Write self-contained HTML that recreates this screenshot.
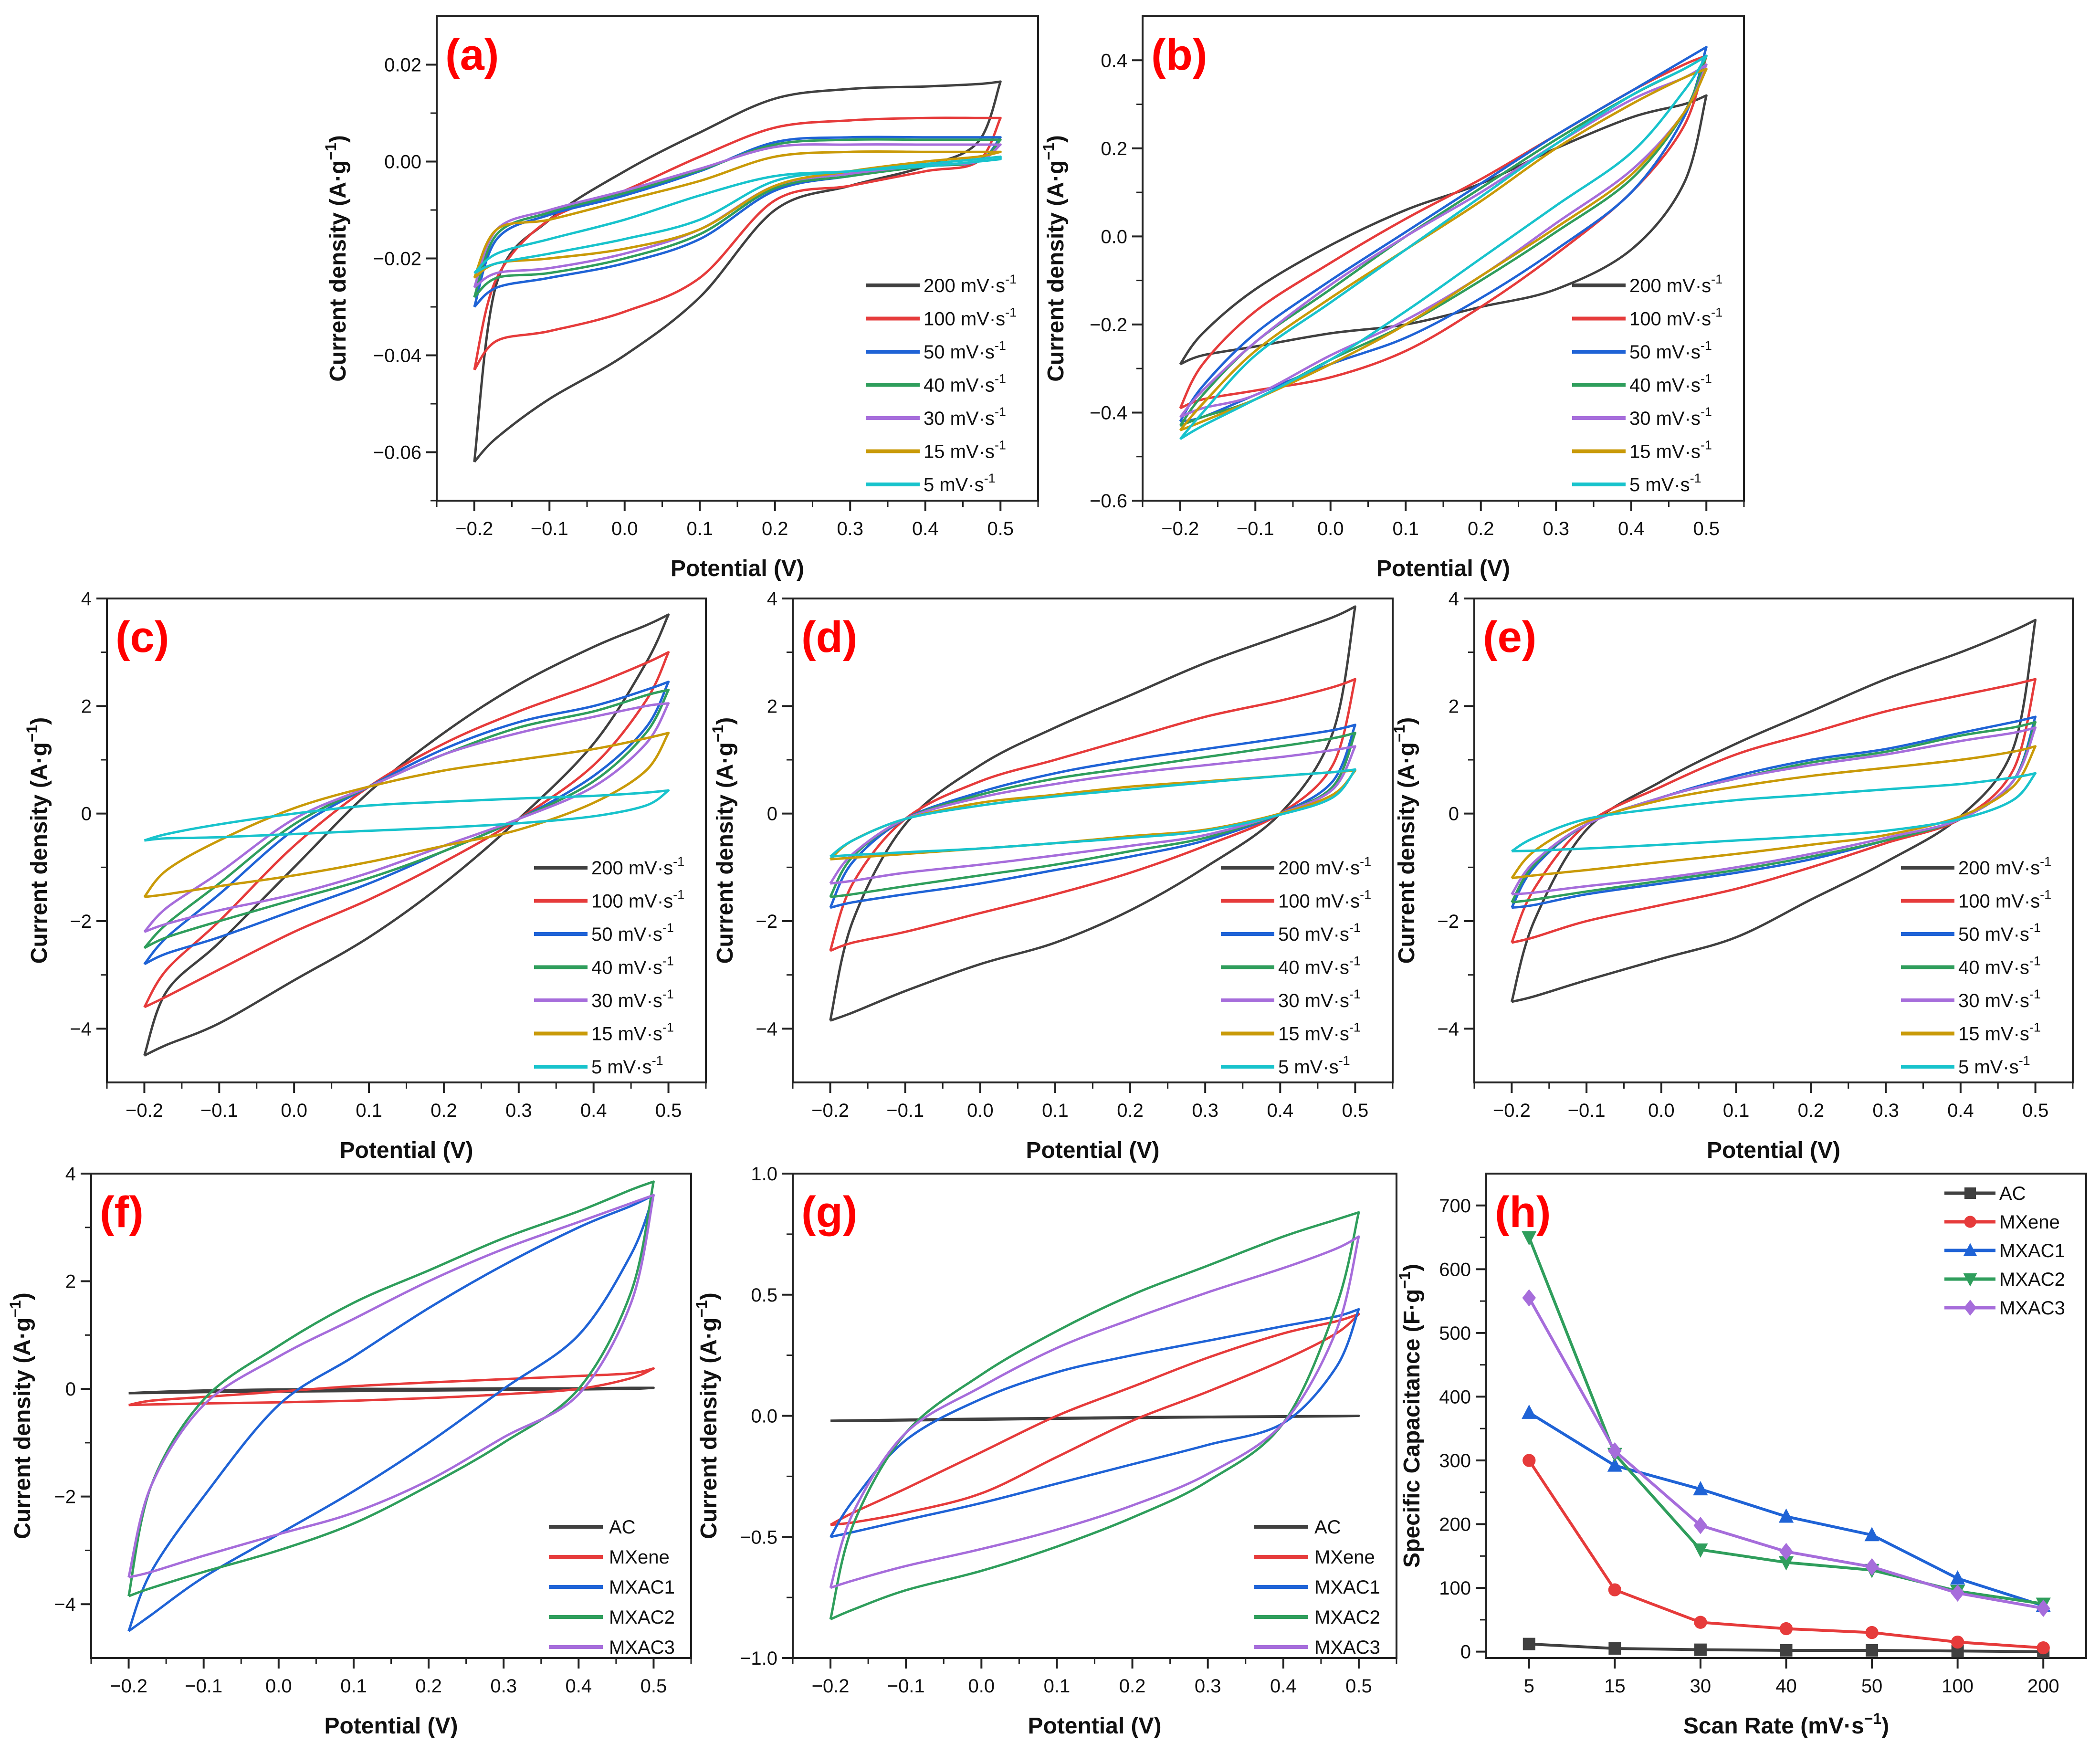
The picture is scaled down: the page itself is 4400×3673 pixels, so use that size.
<!DOCTYPE html>
<html><head><meta charset="utf-8">
<style>
html,body{margin:0;padding:0;background:#fff;}
svg{display:block;font-family:"Liberation Sans",Arial,sans-serif;}
</style></head>
<body>
<svg id="fig" xmlns="http://www.w3.org/2000/svg" width="4400" height="3673" viewBox="0 0 4400 3673">
<rect x="0" y="0" width="4400" height="3673" fill="#fff"/>
</svg>
<script>
// ---------- DATA ----------
const potentials = [-0.2,-0.17,-0.1,0,0.1,0.2,0.3,0.4,0.47,0.5];
const rateLabels = ['200','100','50','40','30','15','5'];
const sampleLabels = ['AC','MXene','MXAC1','MXAC2','MXAC3'];
const xTickValues = [-0.2,-0.1,0,0.1,0.2,0.3,0.4,0.5];

// panel (a)
const aUpper = [
 [-0.062,-0.025,-0.012,-0.002,0.006,0.013,0.015,0.0155,0.016,0.0165],
 [-0.043,-0.024,-0.012,-0.006,0.001,0.007,0.0085,0.009,0.009,0.009],
 [-0.030,-0.016,-0.011,-0.007,-0.002,0.004,0.005,0.005,0.005,0.005],
 [-0.028,-0.015,-0.0105,-0.0065,-0.0018,0.0035,0.0045,0.0045,0.0045,0.0045],
 [-0.026,-0.014,-0.010,-0.006,-0.0015,0.003,0.0035,0.0035,0.0035,0.0035],
 [-0.024,-0.014,-0.012,-0.008,-0.004,0.001,0.002,0.002,0.002,0.002],
 [-0.023,-0.019,-0.016,-0.012,-0.007,-0.003,-0.002,-0.0005,0.0005,0.001]];
const aLower = [
 [-0.062,-0.057,-0.049,-0.040,-0.028,-0.010,-0.005,-0.001,0.004,0.0165],
 [-0.043,-0.037,-0.035,-0.031,-0.024,-0.008,-0.005,-0.002,0.0,0.009],
 [-0.030,-0.026,-0.024,-0.021,-0.016,-0.006,-0.003,-0.001,0.0,0.005],
 [-0.028,-0.024,-0.023,-0.020,-0.015,-0.0055,-0.003,-0.001,0.0,0.0045],
 [-0.026,-0.023,-0.022,-0.019,-0.014,-0.005,-0.0025,-0.0008,0.0,0.0035],
 [-0.024,-0.021,-0.020,-0.018,-0.014,-0.005,-0.002,0.0,0.001,0.002],
 [-0.023,-0.021,-0.019,-0.016,-0.012,-0.004,-0.002,-0.001,0.0,0.0005]];
const aYTicks = [0.02,0,-0.02,-0.04,-0.06];

// panel (b)
const bUpper = [
 [-0.29,-0.22,-0.12,-0.02,0.06,0.12,0.2,0.27,0.3,0.32],
 [-0.39,-0.29,-0.17,-0.06,0.04,0.13,0.23,0.33,0.39,0.41],
 [-0.42,-0.34,-0.22,-0.1,0.01,0.12,0.23,0.33,0.4,0.43],
 [-0.43,-0.36,-0.24,-0.12,0.0,0.11,0.22,0.32,0.38,0.41],
 [-0.41,-0.35,-0.24,-0.11,0.0,0.1,0.21,0.31,0.36,0.39],
 [-0.44,-0.38,-0.26,-0.14,-0.03,0.08,0.2,0.3,0.36,0.38],
 [-0.46,-0.4,-0.27,-0.15,-0.03,0.09,0.21,0.32,0.38,0.41]];
const bLower = [
 [-0.29,-0.27,-0.25,-0.22,-0.2,-0.16,-0.12,-0.03,0.12,0.32],
 [-0.39,-0.37,-0.35,-0.32,-0.26,-0.16,-0.04,0.1,0.25,0.41],
 [-0.42,-0.41,-0.36,-0.29,-0.23,-0.14,-0.03,0.1,0.27,0.43],
 [-0.43,-0.41,-0.37,-0.28,-0.2,-0.1,0.01,0.13,0.28,0.41],
 [-0.41,-0.39,-0.36,-0.27,-0.19,-0.09,0.03,0.15,0.28,0.39],
 [-0.44,-0.42,-0.37,-0.29,-0.2,-0.09,0.02,0.14,0.28,0.38],
 [-0.46,-0.43,-0.37,-0.28,-0.17,-0.05,0.07,0.19,0.33,0.41]];
const bYTicks = [0.4,0.2,0.0,-0.2,-0.4,-0.6];

// panel (c)
const cUpper = [
 [-4.5,-3.3,-2.4,-1.0,0.4,1.5,2.4,3.1,3.5,3.7],
 [-3.6,-2.9,-2.0,-0.6,0.5,1.3,1.9,2.4,2.8,3.0],
 [-2.8,-2.3,-1.5,-0.3,0.5,1.2,1.7,2.0,2.3,2.45],
 [-2.5,-2.05,-1.3,-0.2,0.5,1.1,1.6,1.9,2.2,2.3],
 [-2.2,-1.75,-1.1,-0.1,0.5,1.1,1.5,1.8,2.0,2.05],
 [-1.55,-1.05,-0.5,0.1,0.5,0.8,1.0,1.2,1.4,1.5],
 [-0.5,-0.38,-0.2,0.0,0.15,0.22,0.28,0.33,0.39,0.43]];
const cLower = [
 [-4.5,-4.3,-3.9,-3.1,-2.3,-1.3,-0.1,1.3,2.8,3.7],
 [-3.6,-3.4,-2.9,-2.2,-1.6,-0.9,-0.1,0.9,2.1,3.0],
 [-2.8,-2.6,-2.3,-1.8,-1.3,-0.7,-0.1,0.7,1.6,2.45],
 [-2.5,-2.3,-2.0,-1.6,-1.2,-0.7,-0.1,0.6,1.5,2.3],
 [-2.2,-2.05,-1.8,-1.5,-1.1,-0.6,-0.1,0.5,1.3,2.05],
 [-1.55,-1.5,-1.35,-1.15,-0.9,-0.6,-0.3,0.2,0.8,1.5],
 [-0.5,-0.46,-0.44,-0.38,-0.32,-0.26,-0.18,-0.05,0.15,0.43]];

// panel (d)
const dUpper = [
 [-3.85,-2.0,-0.2,0.9,1.6,2.2,2.8,3.3,3.65,3.85],
 [-2.55,-1.3,-0.1,0.6,1.0,1.4,1.8,2.1,2.35,2.5],
 [-1.75,-0.9,-0.1,0.4,0.75,1.0,1.2,1.4,1.55,1.65],
 [-1.55,-0.8,-0.1,0.35,0.65,0.85,1.05,1.25,1.4,1.5],
 [-1.3,-0.75,-0.1,0.3,0.55,0.75,0.9,1.05,1.18,1.25],
 [-0.85,-0.5,-0.1,0.2,0.35,0.5,0.6,0.7,0.77,0.8],
 [-0.8,-0.5,-0.1,0.15,0.32,0.45,0.58,0.7,0.77,0.82]];
const dLower = [
 [-3.85,-3.7,-3.3,-2.8,-2.4,-1.8,-1.0,0.0,1.5,3.85],
 [-2.55,-2.4,-2.2,-1.85,-1.5,-1.1,-0.6,0.0,0.9,2.5],
 [-1.75,-1.65,-1.5,-1.3,-1.05,-0.8,-0.5,0.0,0.6,1.65],
 [-1.55,-1.5,-1.35,-1.15,-0.95,-0.7,-0.45,0.0,0.5,1.5],
 [-1.3,-1.25,-1.1,-0.95,-0.78,-0.6,-0.4,0.0,0.45,1.25],
 [-0.85,-0.82,-0.75,-0.65,-0.55,-0.42,-0.3,0.0,0.35,0.8],
 [-0.8,-0.77,-0.72,-0.65,-0.55,-0.45,-0.32,-0.02,0.3,0.82]];

// panel (e)
const eUpper = [
 [-3.5,-2.0,-0.3,0.6,1.3,1.9,2.5,3.0,3.4,3.6],
 [-2.4,-1.4,-0.2,0.5,1.1,1.5,1.9,2.2,2.4,2.5],
 [-1.75,-1.0,-0.2,0.3,0.7,1.0,1.2,1.5,1.7,1.8],
 [-1.65,-0.95,-0.2,0.3,0.65,0.95,1.15,1.45,1.6,1.7],
 [-1.5,-0.9,-0.2,0.3,0.65,0.9,1.1,1.35,1.5,1.6],
 [-1.2,-0.7,-0.15,0.25,0.5,0.7,0.85,1.0,1.15,1.25],
 [-0.7,-0.45,-0.1,0.1,0.25,0.35,0.45,0.55,0.67,0.75]];
const eLower = [
 [-3.5,-3.4,-3.1,-2.7,-2.3,-1.6,-0.9,-0.05,1.2,3.6],
 [-2.4,-2.3,-2.0,-1.7,-1.4,-1.0,-0.55,-0.1,0.8,2.5],
 [-1.75,-1.7,-1.5,-1.3,-1.1,-0.85,-0.5,-0.1,0.6,1.8],
 [-1.65,-1.6,-1.45,-1.25,-1.05,-0.8,-0.5,-0.1,0.6,1.7],
 [-1.5,-1.47,-1.35,-1.2,-1.0,-0.75,-0.45,-0.1,0.6,1.6],
 [-1.2,-1.15,-1.05,-0.9,-0.75,-0.58,-0.4,-0.05,0.5,1.25],
 [-0.7,-0.69,-0.65,-0.58,-0.5,-0.42,-0.32,-0.1,0.25,0.75]];
const cdeYTicks = [4,2,0,-2,-4];

// panel (f)
const fUpper = [
 [-0.08,-0.06,-0.03,-0.01,0.0,0.0,0.01,0.01,0.02,0.02],
 [-0.3,-0.22,-0.15,-0.05,0.05,0.12,0.18,0.24,0.29,0.38],
 [-4.5,-3.4,-2.0,-0.3,0.6,1.5,2.3,3.0,3.4,3.6],
 [-3.85,-1.8,-0.2,0.8,1.6,2.2,2.8,3.3,3.7,3.85],
 [-3.5,-1.8,-0.3,0.6,1.3,2.0,2.6,3.1,3.45,3.6]];
const fLower = [
 [-0.08,-0.075,-0.06,-0.05,-0.04,-0.03,-0.02,-0.01,0.0,0.02],
 [-0.3,-0.29,-0.27,-0.25,-0.22,-0.17,-0.1,0.0,0.2,0.38],
 [-4.5,-4.2,-3.5,-2.7,-1.9,-1.0,0.0,1.0,2.5,3.6],
 [-3.85,-3.7,-3.4,-3.0,-2.5,-1.8,-1.0,0.0,1.8,3.85],
 [-3.5,-3.4,-3.1,-2.7,-2.3,-1.7,-0.9,-0.1,1.6,3.6]];

// panel (g)
const gUpper = [
 [-0.02,-0.019,-0.016,-0.012,-0.009,-0.006,-0.004,-0.002,-0.001,0.0],
 [-0.45,-0.4,-0.3,-0.15,0.0,0.12,0.24,0.34,0.39,0.42],
 [-0.5,-0.35,-0.1,0.07,0.18,0.25,0.31,0.37,0.41,0.44],
 [-0.84,-0.45,-0.07,0.17,0.35,0.5,0.62,0.74,0.81,0.84],
 [-0.71,-0.4,-0.07,0.12,0.28,0.4,0.51,0.61,0.69,0.74]];
const gLower = [
 [-0.02,-0.021,-0.019,-0.016,-0.012,-0.009,-0.006,-0.004,-0.002,0.0],
 [-0.45,-0.44,-0.4,-0.32,-0.17,-0.02,0.1,0.23,0.34,0.42],
 [-0.5,-0.48,-0.43,-0.36,-0.28,-0.2,-0.12,-0.03,0.2,0.44],
 [-0.84,-0.8,-0.72,-0.64,-0.54,-0.42,-0.27,-0.03,0.45,0.84],
 [-0.71,-0.68,-0.62,-0.55,-0.47,-0.37,-0.24,-0.03,0.35,0.74]];
const gYTicks = [1.0,0.5,0.0,-0.5,-1.0];

// panel (h)
const scanRates = ['5','15','30','40','50','100','200'];
const capAC    = [12,5,3,2,2,1,0];
const capMXene = [300,97,46,36,30,15,6];
const capMXAC1 = [375,292,255,212,183,115,72];
const capMXAC2 = [650,310,160,140,128,95,75];
const capMXAC3 = [555,315,198,157,133,92,68];
const hYTicks = [0,100,200,300,400,500,600,700];

// ---------- DRAWING ----------
const NS = 'http://www.w3.org/2000/svg';
const svg = document.getElementById('fig');
const rateColors = ['#404040','#e63b3b','#1f63d6','#2f9e5c','#a66ddb','#c99a08','#18c3cc'];
const sampleColors = ['#404040','#e63b3b','#1f63d6','#2f9e5c','#a66ddb'];

function mk(tag, attrs, parent){
  const el = document.createElementNS(NS, tag);
  for (const k in attrs) el.setAttribute(k, attrs[k]);
  (parent||svg).appendChild(el);
  return el;
}
function fmt(v, d){ const s = Math.abs(v).toFixed(d); return (v < -1e-9 ? '\u2212' : '') + s; }
function smoothPath(pts){
  let d = 'M' + pts[0][0].toFixed(1) + ',' + pts[0][1].toFixed(1);
  for (let i = 0; i < pts.length - 1; i++){
    const p0 = pts[Math.max(0,i-1)], p1 = pts[i], p2 = pts[i+1], p3 = pts[Math.min(pts.length-1,i+2)];
    const c1x = p1[0] + (p2[0]-p0[0])/6, c1y = p1[1] + (p2[1]-p0[1])/6;
    const c2x = p2[0] - (p3[0]-p1[0])/6, c2y = p2[1] - (p3[1]-p1[1])/6;
    d += ' C' + c1x.toFixed(1) + ',' + c1y.toFixed(1) + ' ' + c2x.toFixed(1) + ',' + c2y.toFixed(1) + ' ' + p2[0].toFixed(1) + ',' + p2[1].toFixed(1);
  }
  return d;
}

function axesFrame(p, id){
  const g = mk('g', {});
  
  
  const r = mk('rect', {x:p.L, y:p.T, width:p.R-p.L, height:p.B-p.T, fill:'none', stroke:'#222', 'stroke-width':4}, g);
  
  
  return g;
}

function drawAxes(p, id, yTicks, yMinor, yDec, xTicksNumeric, xLabelText, yLabelText){
  const g = axesFrame(p, id);
  const sx = v => p.L + (v - p.x0) / (p.x1 - p.x0) * (p.R - p.L);
  const sy = v => p.B - (v - p.y0) / (p.y1 - p.y0) * (p.B - p.T);
  p.sx = sx; p.sy = sy;
  if (xTicksNumeric){
    xTickValues.forEach(v => {
      mk('line', {x1:sx(v), x2:sx(v), y1:p.B, y2:p.B+22, stroke:'#222', 'stroke-width':4}, g);
      const t = mk('text', {x:sx(v), y:p.B+72, 'font-size':40, 'text-anchor':'middle', fill:'#111'}, g);
      t.textContent = fmt(v,1);
      
      
    });
    for (let v = -0.25; v <= 0.56; v += 0.1){
      mk('line', {x1:sx(v), x2:sx(v), y1:p.B, y2:p.B+13, stroke:'#222', 'stroke-width':3}, g);
    }
  }
  yTicks.forEach(v => {
    mk('line', {x1:p.L-22, x2:p.L, y1:sy(v), y2:sy(v), stroke:'#222', 'stroke-width':4}, g);
    const t = mk('text', {x:p.L-32, y:sy(v)+14, 'font-size':40, 'text-anchor':'end', fill:'#111'}, g);
    t.textContent = fmt(v, yDec);
    
    
    const m = v + yMinor;
    if (m < p.y1) mk('line', {x1:p.L-13, x2:p.L, y1:sy(m), y2:sy(m), stroke:'#222', 'stroke-width':3}, g);
  });
  const lastMinor = yTicks[yTicks.length-1] - yMinor;
  if (lastMinor > p.y0) mk('line', {x1:p.L-13, x2:p.L, y1:sy(lastMinor), y2:sy(lastMinor), stroke:'#222', 'stroke-width':3}, g);
  const xt = mk('text', {x:(p.L+p.R)/2, y:p.B+158, 'font-size':48, 'font-weight':'bold', 'text-anchor':'middle', fill:'#111'}, g);
  
  
  if (xLabelText === 'scan'){
    xt.appendChild(document.createTextNode('Scan Rate (mV\u00B7s'));
    const s = mk('tspan', {'font-size':32, dy:-20}, xt); s.textContent = '\u22121';
    const s2 = mk('tspan', {dy:20}, xt); s2.textContent = ')';
  } else xt.textContent = xLabelText;
  const cx = p.L - p.ytOff, cy = (p.T + p.B)/2;
  const yt = mk('text', {x:cx, y:cy, 'font-size':48, 'font-weight':'bold', 'text-anchor':'middle', fill:'#111', transform:'rotate(-90 '+cx+' '+cy+')'}, g);
  
  
  yt.appendChild(document.createTextNode(yLabelText + ' (' + (yLabelText.startsWith('Spec') ? 'F' : 'A') + '\u00B7g'));
  const s = mk('tspan', {'font-size':32, dy:-20}, yt); s.textContent = '\u22121';
  const s2 = mk('tspan', {dy:20}, yt); s2.textContent = ')';
  const pl = mk('text', {x:p.L+18, y:p.T+112, 'font-size':92, 'font-weight':'bold', fill:'#ff0000'}, g);
  pl.textContent = '(' + id.replace('panel-','') + ')';
  
  
  return g;
}

function drawCV(p, id, upper, lower, labels, colors, yTicks, yMinor, yDec, legend){
  drawAxes(p, id, yTicks, yMinor, yDec, true, 'Potential (V)', 'Current density');
  const g = mk('g', {});
  
  
  upper.forEach((ser, i) => {
    const up = potentials.map((x,k) => [p.sx(x), p.sy(ser[k])]);
    const lo = potentials.map((x,k) => [p.sx(x), p.sy(lower[i][k])]).reverse();
    const path = mk('path', {d: smoothPath(up) + ' ' + smoothPath(lo).replace(/^M/,'L'), fill:'none', stroke:colors[i], 'stroke-width':5, 'stroke-linejoin':'round'}, g);
    
    
  });
  const lg = mk('g', {});
  
  
  labels.forEach((lab, i) => {
    const y = p.T + legend.top + i * legend.dy;
    mk('line', {x1:p.R-legend.l1, x2:p.R-legend.l2, y1:y, y2:y, stroke:colors[i], 'stroke-width':8}, lg);
    const t = mk('text', {x:p.R-legend.tx, y:y+14, 'font-size':40, fill:'#111'}, lg);
    
    
    if (legend.rate){
      t.appendChild(document.createTextNode(lab + ' mV\u00B7s'));
      const s = mk('tspan', {'font-size':27, dy:-18}, t); s.textContent = '-1';
    } else t.textContent = lab;
  });
}

const rateLegend = {top:564, dy:69.5, l1:360, l2:248, tx:240, rate:true};
const sampleLegend = {top:740, dy:63, l1:298, l2:185, tx:172, rate:false};

drawCV({L:915,R:2175,T:34,B:1049,x0:-0.25,x1:0.55,y0:-0.07,y1:0.03,ytOff:191}, 'panel-a', aUpper, aLower, rateLabels, rateColors, aYTicks, 0.01, 2, rateLegend);
drawCV({L:2394,R:3654,T:34,B:1049,x0:-0.25,x1:0.55,y0:-0.6,y1:0.5,ytOff:166}, 'panel-b', bUpper, bLower, rateLabels, rateColors, bYTicks, 0.1, 1, rateLegend);
drawCV({L:224,R:1479,T:1254,B:2268,x0:-0.25,x1:0.55,y0:-5,y1:4,ytOff:126}, 'panel-c', cUpper, cLower, rateLabels, rateColors, cdeYTicks, 1, 0, rateLegend);
drawCV({L:1661,R:2918,T:1254,B:2268,x0:-0.25,x1:0.55,y0:-5,y1:4,ytOff:126}, 'panel-d', dUpper, dLower, rateLabels, rateColors, cdeYTicks, 1, 0, rateLegend);
drawCV({L:3089,R:4343,T:1254,B:2268,x0:-0.25,x1:0.55,y0:-5,y1:4,ytOff:126}, 'panel-e', eUpper, eLower, rateLabels, rateColors, cdeYTicks, 1, 0, rateLegend);
drawCV({L:191,R:1448,T:2459,B:3474,x0:-0.25,x1:0.55,y0:-5,y1:4,ytOff:128}, 'panel-f', fUpper, fLower, sampleLabels, sampleColors, cdeYTicks, 1, 0, sampleLegend);
drawCV({L:1661,R:2926,T:2459,B:3474,x0:-0.25,x1:0.55,y0:-1,y1:1,ytOff:160}, 'panel-g', gUpper, gLower, sampleLabels, sampleColors, gYTicks, 0.25, 1, sampleLegend);

// panel h
(function(){
  const p = {L:3114,R:4371,T:2459,B:3474,x0:-0.5,x1:6.5,y0:-10,y1:750,ytOff:140};
  drawAxes(p, 'panel-h', hYTicks, 50, 0, false, 'scan', 'Specific Capacitance');
  const g = mk('g', {});
  
  
  scanRates.forEach((r, i) => {
    mk('line', {x1:p.sx(i), x2:p.sx(i), y1:p.B, y2:p.B+22, stroke:'#222', 'stroke-width':4}, g);
    const t = mk('text', {x:p.sx(i), y:p.B+72, 'font-size':40, 'text-anchor':'middle', fill:'#111'}, g);
    t.textContent = r;
    
    
  });
  const series = [capAC, capMXene, capMXAC1, capMXAC2, capMXAC3];
  const markers = ['square','circle','up','down','diamond'];
  function marker(kind, x, y, col, parent, s){
    s = s || 13;
    if (kind === 'square') return mk('rect', {x:x-s, y:y-s, width:2*s, height:2*s, fill:col}, parent);
    if (kind === 'circle') return mk('circle', {cx:x, cy:y, r:s*1.05, fill:col}, parent);
    if (kind === 'up') return mk('polygon', {points:`${x},${y-s*1.3} ${x-s*1.2},${y+s} ${x+s*1.2},${y+s}`, fill:col}, parent);
    if (kind === 'down') return mk('polygon', {points:`${x},${y+s*1.3} ${x-s*1.2},${y-s} ${x+s*1.2},${y-s}`, fill:col}, parent);
    return mk('polygon', {points:`${x},${y-s*1.4} ${x-s*1.1},${y} ${x},${y+s*1.4} ${x+s*1.1},${y}`, fill:col}, parent);
  }
  series.forEach((vals, si) => {
    const sg = mk('g', {});
    
    
    const pts = vals.map((v,i) => p.sx(i).toFixed(1) + ',' + p.sy(v).toFixed(1)).join(' ');
    mk('polyline', {points:pts, fill:'none', stroke:sampleColors[si], 'stroke-width':6}, sg);
    vals.forEach((v,i) => {
      const m = marker(markers[si], p.sx(i), p.sy(v), sampleColors[si], sg);
      
      
    });
  });
  const lg = mk('g', {});
  
  
  sampleLabels.forEach((lab, i) => {
    const y = p.T + 41 + i * 60;
    mk('line', {x1:p.R-297, x2:p.R-190, y1:y, y2:y, stroke:sampleColors[i], 'stroke-width':7}, lg);
    marker(markers[i], p.R-243, y, sampleColors[i], lg, 12);
    const t = mk('text', {x:p.R-182, y:y+14, 'font-size':40, fill:'#111'}, lg);
    t.textContent = lab;
    
    
  });
})();
</script>
</body></html>
